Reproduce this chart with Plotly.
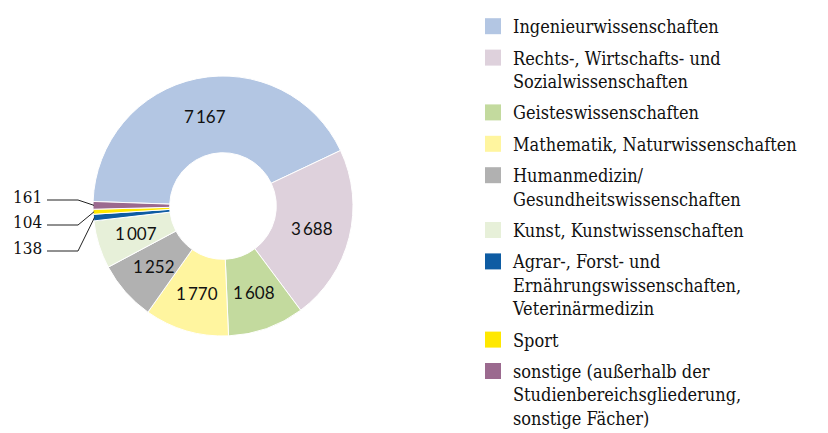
import math
import plotly.graph_objects as go

# ---------------- data ----------------
categories = [
    "Ingenieurwissenschaften",
    "Rechts-, Wirtschafts- und<br>Sozialwissenschaften",
    "Geisteswissenschaften",
    "Mathematik, Naturwissenschaften",
    "Humanmedizin/<br>Gesundheitswissenschaften",
    "Kunst, Kunstwissenschaften",
    "Agrar-, Forst- und<br>Ernährungswissenschaften,<br>Veterinärmedizin",
    "Sport",
    "sonstige (außerhalb der<br>Studienbereichsgliederung,<br>sonstige Fächer)",
]
values = [7167, 3688, 1608, 1770, 1252, 1007, 138, 104, 161]
colors = ["#B3C6E3", "#DED1DC", "#C3DA9E", "#FFF59F", "#B1B1B1",
          "#E7F0D9", "#0E5CA3", "#FFE800", "#9B6A8F"]

# ---------------- layout constants (screen pixels) ----------------
W, H = 828, 450
OFF = 8                            # page body margin of the html page
CX, CY, R = 223, 206, 130          # donut centre / radius
HOLE = 0.41
ROTATION = -88
SMALL = 500                        # slices below this get outside labels
LABEL_Y = {"sonstige": 197, "Sport": 222, "Agrar": 248}
LABEL_X = 11
ELBOW_X0, ELBOW_X1 = 47, 78
SERIF = "DejaVu Serif Condensed, DejaVu Serif"

def fx(sx):
    return (sx - OFF) / W

def fy(sy):
    return 1 - (sy - OFF) / H

def fmt(v):
    return f"{v:,}".replace(",", "\u2009")

fig = go.Figure()
fig.add_trace(go.Pie(
    labels=categories, values=values, textinfo="none",
    sort=False, direction="clockwise", rotation=ROTATION, hole=HOLE,
    marker=dict(colors=colors, line=dict(color="white", width=1)),
    domain=dict(x=[fx(CX - R), fx(CX + R)], y=[fy(CY + R), fy(CY - R)]),
    showlegend=False, hoverinfo="label+value",
))

# legend through dummy scatter traces (square symbols)
for i, (c, col) in enumerate(zip(categories, colors)):
    fig.add_trace(go.Scatter(
        x=[None], y=[None], mode="markers", name=c,
        marker=dict(symbol="square", size=16, color=col),
        legendgroup=f"g{i}", showlegend=True,
    ))

# value labels, positions derived from the data (slice mid-angles)
total = sum(values)
cum = 0
keys = ["Agrar", "Sport", "sonstige"]
shapes, annotations = [], []
r_mid = R * (1 + HOLE) / 2
for v, cat in zip(values, categories):
    mid = ROTATION + (cum + v / 2) / total * 360
    cum += v
    a = math.radians(mid)
    if v >= SMALL:
        tx = CX + r_mid * math.sin(a)
        ty = CY - r_mid * math.cos(a)
        annotations.append(dict(
            x=fx(tx), y=fy(ty), xref="paper", yref="paper",
            text=fmt(v), showarrow=False, xanchor="center", yanchor="middle",
            font=dict(family="Lato", size=17, color="#111111"),
        ))
        continue
    key = [k for k in keys if cat.startswith(k)][0]
    px = CX + (R - 1) * math.sin(a)
    py = CY - (R - 1) * math.cos(a)
    ly = LABEL_Y[key]
    line_y = ly + 3
    shapes.append(dict(
        type="path", xref="paper", yref="paper",
        path=(f"M {fx(ELBOW_X0)},{fy(line_y)} L {fx(ELBOW_X1)},{fy(line_y)} "
              f"L {fx(px)},{fy(py)}"),
        line=dict(color="#222222", width=1),
    ))
    annotations.append(dict(
        x=fx(LABEL_X), y=fy(ly), xref="paper", yref="paper",
        text=str(v), showarrow=False, xanchor="left", yanchor="middle",
        font=dict(family=SERIF, size=17, color="#111111"),
    ))

fig.update_layout(
    width=W, height=H,
    margin=dict(l=0, r=0, t=0, b=0, autoexpand=False),
    paper_bgcolor="white", plot_bgcolor="white",
    xaxis=dict(visible=False), yaxis=dict(visible=False),
    shapes=shapes, annotations=annotations,
    legend=dict(x=465 / W, xanchor="left", y=1.0, yanchor="top",
                valign="top", tracegroupgap=5,
                font=dict(family=SERIF, size=18, color="#111111"),
                bgcolor="rgba(0,0,0,0)"),
)

fig.write_html("out.html")
